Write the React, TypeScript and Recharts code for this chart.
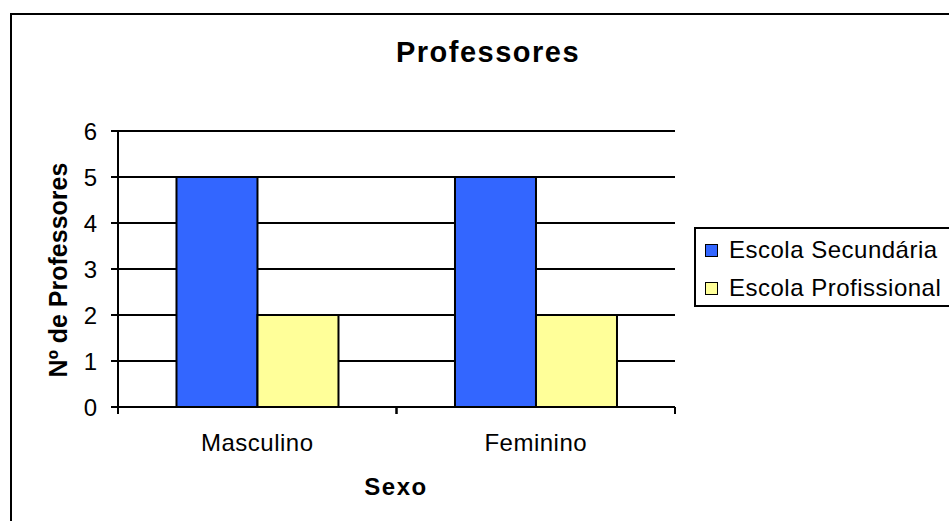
import React from 'react'
import {
  BarChart,
  Bar,
  XAxis,
  YAxis,
  CartesianGrid,
} from 'recharts'

const categories = ['Masculino', 'Feminino']
const escolaSecundaria = [5, 5]
const escolaProfissional = [2, 2]
const yTicks = [0, 1, 2, 3, 4, 5, 6]
const seriesNames = ['Escola Secundária', 'Escola Profissional']
const seriesColors = ['#3366FF', '#FFFF99']

const FONT = '"Liberation Sans", Arial, sans-serif'

const chartData = categories.map((name, i) => ({
  name,
  secundaria: escolaSecundaria[i],
  profissional: escolaProfissional[i],
}))

// tick marks sit on the category edges, labels in the middle
const XTick = ({ x, y, payload }: any) => {
  const half = payload?.offset ?? 0
  return (
    <g>
      <line x1={x - half} x2={x - half} y1={y} y2={y + 7} stroke="#000" strokeWidth={2} />
      <line x1={x + half} x2={x + half} y1={y} y2={y + 7} stroke="#000" strokeWidth={2} />
      <text
        x={x}
        y={y + 35}
        textAnchor="middle"
        dominantBaseline="central"
        fontFamily={FONT}
        fontSize={24}
        letterSpacing={0.5}
        fill="#000"
      >
        {payload.value}
      </text>
    </g>
  )
}

export default function App() {
  return (
    <div
      style={{
        position: 'absolute',
        left: 0,
        top: 0,
        width: 949,
        height: 521,
        overflow: 'hidden',
        background: '#fff',
        fontFamily: FONT,
      }}
    >
      {/* chart frame */}
      <div
        style={{
          position: 'absolute',
          left: 10,
          top: 13,
          width: 980,
          height: 560,
          border: '2px solid #000',
          boxSizing: 'border-box',
        }}
      />
      <div
        style={{
          position: 'absolute',
          left: 288,
          width: 400,
          top: 52,
          transform: 'translateY(-50%)',
          textAlign: 'center',
          fontWeight: 'bold',
          fontSize: 29,
          letterSpacing: 1.5,
        }}
      >
        Professores
      </div>

      <div style={{ position: 'absolute', left: 0, top: 0 }}>
        <BarChart
          width={949}
          height={521}
          data={chartData}
          margin={{ top: 131, left: 58, right: 274, bottom: 74 }}
          barCategoryGap="21%"
          barGap={0}
        >
          <CartesianGrid vertical={false} stroke="#000" strokeWidth={2} />
          <XAxis
            dataKey="name"
            height={40}
            tickLine={false}
            tickSize={0}
            tickMargin={0}
            axisLine={{ stroke: '#000', strokeWidth: 2 }}
            tick={<XTick />}
            interval={0}
          />
          <YAxis
            width={60}
            domain={[0, 6]}
            ticks={yTicks}
            interval={0}
            tickSize={7}
            tickMargin={14}
            axisLine={{ stroke: '#000', strokeWidth: 2 }}
            tickLine={{ stroke: '#000', strokeWidth: 2 }}
            tick={{ fill: '#000', fontSize: 24, fontFamily: FONT }}
          />
          <YAxis
            yAxisId="edge"
            orientation="right"
            width={0}
            domain={[0, 6]}
            tick={false}
            tickLine={false}
            axisLine={{ stroke: '#000', strokeWidth: 2 }}
          />
          <Bar
            dataKey="secundaria"
            name={seriesNames[0]}
            fill={seriesColors[0]}
            stroke="#000"
            strokeWidth={2}
            isAnimationActive={false}
          />
          <Bar
            dataKey="profissional"
            name={seriesNames[1]}
            fill={seriesColors[1]}
            stroke="#000"
            strokeWidth={2}
            isAnimationActive={false}
          />
        </BarChart>
      </div>

      {/* axis titles */}
      <div
        style={{
          position: 'absolute',
          left: 58,
          top: 270,
          transform: 'translate(-50%, -50%) rotate(-90deg)',
          whiteSpace: 'nowrap',
          fontWeight: 'bold',
          fontSize: 25,
        }}
      >
        Nº de Professores
      </div>
      <div
        style={{
          position: 'absolute',
          left: 396,
          top: 487,
          transform: 'translate(-50%, -50%)',
          whiteSpace: 'nowrap',
          fontWeight: 'bold',
          fontSize: 24,
          letterSpacing: 1.5,
        }}
      >
        Sexo
      </div>

      {/* legend */}
      <div
        style={{
          position: 'absolute',
          left: 694,
          top: 227,
          width: 300,
          height: 80,
          border: '2px solid #000',
          boxSizing: 'border-box',
          background: '#fff',
        }}
      >
        {seriesNames.map((name, i) => (
          <div
            key={name}
            style={{
              position: 'absolute',
              left: 9,
              top: 6 + i * 38,
              height: 30,
              display: 'flex',
              alignItems: 'center',
              whiteSpace: 'nowrap',
            }}
          >
            <div
              style={{
                width: 11,
                height: 11,
                background: seriesColors[i],
                border: '1.5px solid #000',
                marginRight: 11,
              }}
            />
            <span style={{ fontSize: 24, letterSpacing: 0.5 }}>{name}</span>
          </div>
        ))}
      </div>
    </div>
  )
}
